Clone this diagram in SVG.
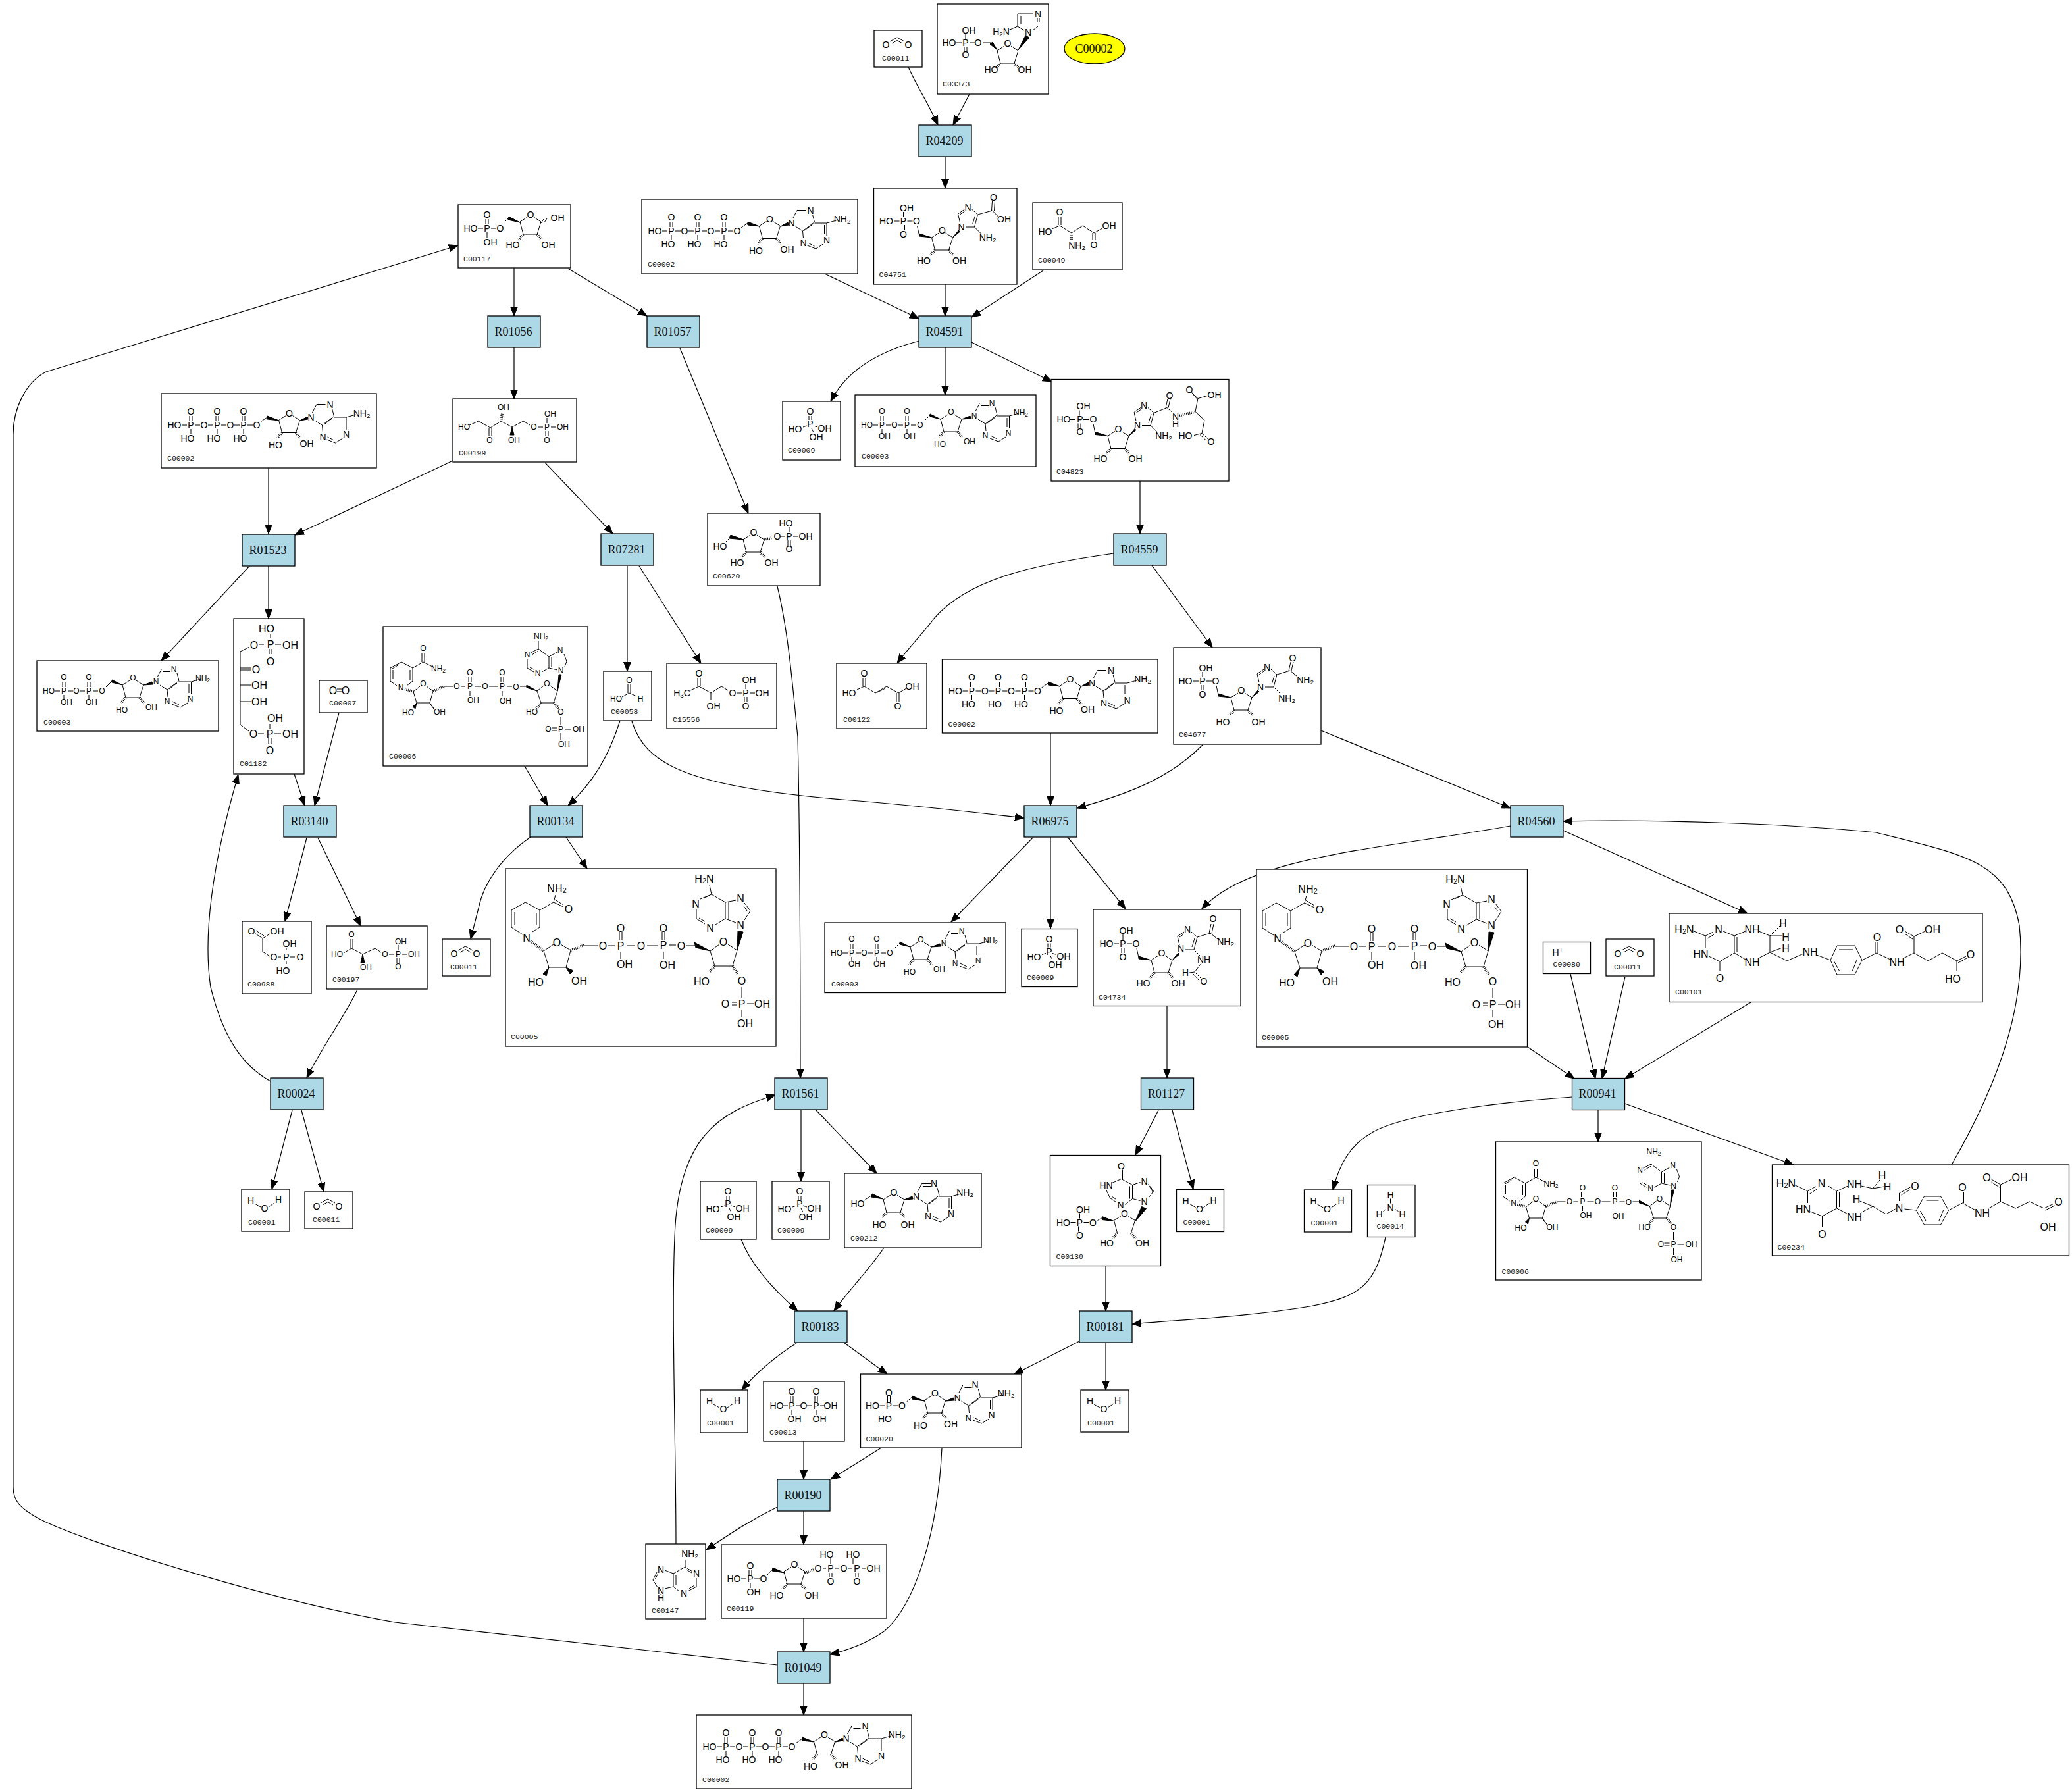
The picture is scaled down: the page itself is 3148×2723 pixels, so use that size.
<svg xmlns="http://www.w3.org/2000/svg" width="3148" height="2723" viewBox="0 0 3148 2723">
<style>
.e path{fill:none;stroke:#000;stroke-width:1.2;marker-end:url(#a)}
rect.c,ellipse.y,rect.r{stroke:#000;stroke-width:1.3}
rect.c{fill:#fff}
rect.r{fill:#add8e6}
ellipse.y{fill:#ff0}
.t{font:18px "Liberation Serif",serif;text-anchor:middle;dominant-baseline:central;fill:#111}
.m text{font:14px "Liberation Sans",sans-serif;text-anchor:middle;dominant-baseline:central;fill:#000}
.m.s text{font-size:12px}
.m.l text{font-size:16px}
.m text.k,.m.s text.k,.m.l text.k{font:11.5px "Liberation Mono",monospace;text-anchor:start;dominant-baseline:central;fill:#111}
.m tspan{font-size:.7em}
.m path,defs path{fill:none;stroke:#000;stroke-width:1;vector-effect:non-scaling-stroke}
path.f{fill:#000!important;stroke:#000}
path.h{stroke-width:4!important;stroke-dasharray:1 1.6}
</style>
<defs>
<marker id="a" markerUnits="userSpaceOnUse" markerWidth="14" markerHeight="12" refX="14" refY="6" orient="auto"><path d="M0 .5L14 6L0 11.5z" style="fill:#000"/></marker>
<g id="rg"><path d="M-5 4L-16 11L-11 30L10 30L16 11L5 4"/><path class="h" d="M-11 30L-18 38M10 30L17 38"/></g>
<path id="p1" d="M-14 0H-6M6 0H14M-2 -14V-6M2 -14V-6M0 6V14"/>
<path id="p2" d="M-14 0H-6M6 0H14M0 -14V-6M-2 6V14M2 6V14"/>
<path id="ade" d="M2 -7L8.5 -19.5H22M11 -15.5H22M32 -13L35 -1.5L17 12L6 5M32 2L20 11M17 12L18 23M24 34L37 39L48 32M25 30L35 35M53.500 19V0H35M50 17V3M53.500 0L68 -4"/>
<path id="co2" d="M24 17L35 11L46 17M27 20L35 15.500L43 20"/>
<path id="h2o" d="M20 22L29 27M41 27L50 21"/>
<path id="pi" d="M40 22V28M44 22V28M37 37L31 39M47 37L53 39M44 41L47 47"/>
<g id="atp"><use href="#p1" x="45" y="48"/><use href="#p1" x="85" y="48"/><use href="#p1" x="125" y="48"/><use href="#rg" x="194.500" y="29.500"/><path class="f" d="M179 41L161 34L161 39z"/><path d="M161 36L151 43"/><path class="f" d="M211 41L222 35L223 39z"/><use href="#ade" x="227.500" y="36"/></g>
<g id="adp"><use href="#p1" x="41" y="46"/><use href="#p1" x="79" y="46"/><use href="#rg" x="146" y="26"/><path class="f" d="M130 37L114 29L114 33z"/><path d="M114 31L105 40"/><path class="f" d="M162 37L175 32L176 36z"/><use href="#ade" x="181" y="32"/></g>
<g id="aic"><use href="#rg"/><use href="#p2" x="-59" y="-14"/><path d="M-38 -7L-35 7"/><path class="f" d="M-16 11L-35 5L-35 9z"/><path class="f" d="M16 11L25 0L27 2z"/><path d="M27 -12L24 -25L34 -32M27 -24L34 -29M45 -32L54 -24L49 -5L36 -5M50 -22L46 -9"/></g>
<g id="nadh"><path d="M26 100L9 89V63L30 51L52 63V89L41 96M14 86V66M47 67V86M52 63L73 51L76 40M73 51L88 58M75 47L88 55M73 115L58 125L66 150H92L99 124L84 115M120 117H140M156 117H166M184 117H197M173 96V109M177 96V109M175 126V137M215 117H231M249 116H259M238 96V108M242 96V108M240 126V137M275 117H290M325 115L311 125L318 148H345L352 124L338 115M363 78L372 64L363 52M367 64L362 57M350 48L334 51V76L350 82M339 51V76M334 76L319 85M303 84L290 76V61M303 80L294 75M296 46L313 39L334 51M301 45L311 40M313 39L310 25M359 180V196M359 214V225M344 203H351M344 207H351M367 205H378"/><path class="h" d="M38 110L58 125M99 124L120 116M318 148L310 157M345 148L353 160"/><path class="f" d="M66 150L57 160L62 163zM92 150L103 155L98 160zM311 125L287 112L289 120zM352 124L353 95L361 96z"/></g>
<g id="nadp"><path d="M21 90L11 83V63L28 54L45 63V83L36 90M15 80V66M24 58L14 64M41 66V81M45 63L61 54L75 61M59 54V41M63 54V41M56 91L46 99L51 116H71L76 98L66 91M93 91H106M118 91H125M139 91H149M130 76V84M134 76V84M132 98V105M161 91H174M188 91H196M179 76V84M183 76V84M181 98V105M208 91H218M244 90L234 98L240 116H259L265 98L254 90M276 61L279 53L275 42M264 39L252 46V63L265 66M256 47V62M252 63L241 69M229 69L219 63V50M229 65L223 62M224 40L236 34L252 46M226 43L236 37M236 34V22M270 137V149M270 162V172M256 154H264M256 158H264M276 156H286"/><path class="h" d="M33 95L46 99M76 98L93 91M240 116L233 125M259 116L268 125"/><path class="f" d="M51 116L45 122L49 125zM71 116L78 126L74 121zM234 98L218 89L218 93zM265 98L267 73L271 73z"/></g>
</defs>
<rect width="3148" height="2723" fill="#fff"/>
<g id="connectors" class="e">
<path d="M1380 102C1395 135 1412 160 1425 190"/><path d="M1473 143L1448 190"/><path d="M1436 238V286"/><path d="M1436 432V480"/><path d="M1253 416L1396 484"/><path d="M1585 411L1476 482"/><path d="M1397 518C1330 535 1285 565 1262 610"/><path d="M1436 528V600"/><path d="M1476 520L1598 580"/><path d="M1732 731V811"/>
<path d="M1692 841C1570 858 1470 880 1419 940C1400 965 1380 985 1363 1008"/><path d="M1750 859L1842 984"/><path d="M1827 1132C1780 1180 1720 1205 1636 1228"/><path d="M2007 1110L2295 1228"/><path d="M1596 1114V1224"/><path d="M960 1096C980 1160 1040 1195 1280 1215C1370 1222 1470 1233 1556 1243"/><path d="M1570 1272L1445 1401"/><path d="M1596 1272V1411"/><path d="M1622 1272L1710 1381"/><path d="M2295 1255C2100 1290 1900 1300 1826 1381"/>
<path d="M2375 1262L2655 1388"/><path d="M1773 1529V1638"/><path d="M1760 1687L1725 1755"/><path d="M1781 1687L1813 1807"/><path d="M1680 1924V1992"/><path d="M2321 1591L2392 1639"/><path d="M2386 1480L2424 1639"/><path d="M2469 1484L2434 1639"/><path d="M2660 1523L2469 1639"/><path d="M2389 1667C2300 1673 2140 1690 2086 1720C2050 1740 2035 1770 2025 1808"/>
<path d="M2428 1687V1735"/><path d="M2469 1677L2725 1770"/><path d="M2965 1770C3040 1640 3080 1520 3068 1406C3050 1310 2990 1300 2850 1265C2700 1250 2500 1245 2375 1248"/><path d="M2105 1880C2090 1950 2070 1970 1990 1985C1900 2000 1800 2005 1720 2012"/><path d="M1680 2040V2112"/><path d="M1640 2038L1541 2088"/><path d="M1282 2040L1348 2088"/><path d="M1210 2041C1180 2060 1150 2085 1127 2112"/><path d="M1126 1883C1140 1920 1170 1955 1212 1992"/><path d="M1343 1896C1320 1930 1290 1960 1267 1992"/>
<path d="M1221 2190V2248"/><path d="M1339 2200L1262 2248"/><path d="M1221 2296V2347"/><path d="M1181 2290C1140 2310 1110 2330 1073 2355"/><path d="M1221 2459V2510"/><path d="M1431 2200C1425 2330 1390 2440 1343 2479C1320 2495 1290 2507 1261 2514"/><path d="M1221 2558V2606"/><path d="M1181 2530L600 2465C400 2430 120 2340 60 2308C30 2292 20 2280 20 2260V660C20 620 40 580 70 565L696 373"/><path d="M1027 2346C1027 2200 1020 2000 1025 1880C1030 1730 1090 1690 1178 1664"/><path d="M1217 1686V1795"/>
<path d="M1240 1687L1332 1783"/><path d="M1181 891C1198 960 1205 1050 1212 1120C1216 1300 1216 1500 1216 1638"/><path d="M1033 529L1137 780"/><path d="M863 408L983 480"/><path d="M781 407V480"/><path d="M781 528V606"/><path d="M688 700L448 813"/><path d="M828 703L931 811"/><path d="M408 711V811"/><path d="M408 859V940"/>
<path d="M380 859L245 1004"/><path d="M447 1176L463 1224"/><path d="M515 1083L478 1224"/><path d="M466 1273L433 1400"/><path d="M483 1273L548 1407"/><path d="M543 1504C520 1550 490 1590 466 1638"/><path d="M411 1643C370 1620 340 1580 320 1500C305 1400 335 1270 362 1177"/><path d="M444 1687L413 1807"/><path d="M458 1687L492 1811"/><path d="M953 860V1020"/>
<path d="M971 860L1065 1008"/><path d="M942 1095C925 1150 900 1190 863 1224"/><path d="M797 1164L832 1224"/><path d="M806 1272C765 1300 735 1340 727 1380L715 1427"/><path d="M860 1272L892 1320"/>
</g>
<g id="R04209"><rect class="r" x="1396" y="190" width="80" height="48"/><text class="t" x="1435" y="214">R04209</text></g>
<g id="R04591"><rect class="r" x="1396" y="480" width="80" height="48"/><text class="t" x="1435" y="504">R04591</text></g>
<g id="R01056"><rect class="r" x="741" y="480" width="80" height="48"/><text class="t" x="780" y="504">R01056</text></g>
<g id="R01057"><rect class="r" x="983" y="480" width="80" height="48"/><text class="t" x="1022" y="504">R01057</text></g>
<g id="R01523"><rect class="r" x="368" y="812" width="80" height="48"/><text class="t" x="407" y="836">R01523</text></g>
<g id="R07281"><rect class="r" x="913" y="811" width="80" height="48"/><text class="t" x="952" y="835">R07281</text></g>
<g id="R04559"><rect class="r" x="1692" y="811" width="80" height="48"/><text class="t" x="1731" y="835">R04559</text></g>
<g id="R03140"><rect class="r" x="431" y="1224" width="80" height="48"/><text class="t" x="470" y="1248">R03140</text></g>
<g id="R00134"><rect class="r" x="805" y="1224" width="80" height="48"/><text class="t" x="844" y="1248">R00134</text></g>
<g id="R06975"><rect class="r" x="1556" y="1224" width="80" height="48"/><text class="t" x="1595" y="1248">R06975</text></g>
<g id="R04560"><rect class="r" x="2295" y="1224" width="80" height="48"/><text class="t" x="2334" y="1248">R04560</text></g>
<g id="R00024"><rect class="r" x="411" y="1638" width="80" height="48"/><text class="t" x="450" y="1662">R00024</text></g>
<g id="R01561"><rect class="r" x="1177" y="1638" width="80" height="48"/><text class="t" x="1216" y="1662">R01561</text></g>
<g id="R01127"><rect class="r" x="1733.500" y="1638" width="80" height="48"/><text class="t" x="1772" y="1662">R01127</text></g>
<g id="R00941"><rect class="r" x="2388.500" y="1638.500" width="80" height="48"/><text class="t" x="2427" y="1662">R00941</text></g>
<g id="R00183"><rect class="r" x="1207" y="1992" width="80" height="48"/><text class="t" x="1246" y="2016">R00183</text></g>
<g id="R00181"><rect class="r" x="1640" y="1992" width="80" height="48"/><text class="t" x="1679" y="2016">R00181</text></g>
<g id="R00190"><rect class="r" x="1181" y="2248" width="80" height="48"/><text class="t" x="1220" y="2272">R00190</text></g>
<g id="R01049"><rect class="r" x="1181" y="2510" width="80" height="48"/><text class="t" x="1220" y="2534">R01049</text></g>
<g id="C00002_o"><ellipse class="y" cx="1663" cy="74" rx="46" ry="23"/><text class="t" x="1662" y="74">C00002</text></g>

<g id="C00011_a" class="m" transform="translate(1328 46)"><rect class="c" width="73" height="56"/><use href="#co2"/><text x="18" y="22">O</text><text x="52" y="22">O</text><text class="k" x="12" y="42">C00011</text></g>
<g id="C00011_b" class="m" transform="translate(672 1427)"><rect class="c" width="73" height="56"/><use href="#co2"/><text x="18" y="22">O</text><text x="52" y="22">O</text><text class="k" x="12" y="42">C00011</text></g>
<g id="C00011_c" class="m" transform="translate(463 1811)"><rect class="c" width="73" height="56"/><use href="#co2"/><text x="18" y="22">O</text><text x="52" y="22">O</text><text class="k" x="12" y="42">C00011</text></g>
<g id="C00011_d" class="m" transform="translate(2440 1427)"><rect class="c" width="73" height="56"/><use href="#co2"/><text x="18" y="22">O</text><text x="52" y="22">O</text><text class="k" x="12" y="42">C00011</text></g>

<g id="C00001_a" class="m" transform="translate(367 1807)"><rect class="c" width="73" height="64"/><use href="#h2o"/><text x="14" y="17">H</text><text x="56" y="16">H</text><text x="35" y="29">O</text><text class="k" x="10" y="50">C00001</text></g>
<g id="C00001_b" class="m" transform="translate(1787.500 1807.500)"><rect class="c" width="72" height="64"/><use href="#h2o"/><text x="14" y="17">H</text><text x="56" y="16">H</text><text x="35" y="29">O</text><text class="k" x="10" y="50">C00001</text></g>
<g id="C00001_c" class="m" transform="translate(1981.500 1808)"><rect class="c" width="72" height="64"/><use href="#h2o"/><text x="14" y="17">H</text><text x="56" y="16">H</text><text x="35" y="29">O</text><text class="k" x="10" y="50">C00001</text></g>
<g id="C00001_d" class="m" transform="translate(1064 2112)"><rect class="c" width="72" height="65"/><use href="#h2o"/><text x="14" y="17">H</text><text x="56" y="16">H</text><text x="35" y="29">O</text><text class="k" x="10" y="50">C00001</text></g>
<g id="C00001_e" class="m" transform="translate(1642 2112)"><rect class="c" width="73" height="64"/><use href="#h2o"/><text x="14" y="17">H</text><text x="56" y="16">H</text><text x="35" y="29">O</text><text class="k" x="10" y="50">C00001</text></g>

<g id="C00009_a" class="m" transform="translate(1189 610)"><rect class="c" width="88" height="89"/><use href="#pi"/><text x="42" y="15">O</text><text x="42" y="34">P</text><text x="19" y="42">HO</text><text x="64" y="41">OH</text><text x="51" y="54">OH</text><text class="k" x="8" y="74">C00009</text></g>
<g id="C00009_b" class="m" transform="translate(1552 1411.500)"><rect class="c" width="85" height="88"/><use href="#pi"/><text x="42" y="15">O</text><text x="42" y="34">P</text><text x="19" y="42">HO</text><text x="64" y="41">OH</text><text x="51" y="54">OH</text><text class="k" x="8" y="74">C00009</text></g>
<g id="C00009_c" class="m" transform="translate(1064 1795)"><rect class="c" width="85" height="88"/><use href="#pi"/><text x="42" y="15">O</text><text x="42" y="34">P</text><text x="19" y="42">HO</text><text x="64" y="41">OH</text><text x="51" y="54">OH</text><text class="k" x="8" y="74">C00009</text></g>
<g id="C00009_d" class="m" transform="translate(1173 1795)"><rect class="c" width="87" height="88"/><use href="#pi"/><text x="42" y="15">O</text><text x="42" y="34">P</text><text x="19" y="42">HO</text><text x="64" y="41">OH</text><text x="51" y="54">OH</text><text class="k" x="8" y="74">C00009</text></g>

<g id="C00002_a" class="m" transform="translate(975 303)"><rect class="c" width="328" height="113"/><use href="#atp"/><text x="20" y="48">HO</text><text x="45" y="27">O</text><text x="45" y="48">P</text><text x="40" y="68">HO</text><text x="65" y="48">O</text><text x="85" y="27">O</text><text x="85" y="48">P</text><text x="80" y="68">HO</text><text x="105" y="48">O</text><text x="125" y="27">O</text><text x="125" y="48">P</text><text x="120" y="68">HO</text><text x="145" y="48">O</text><text x="194.500" y="29.500">O</text><text x="173.500" y="78">HO</text><text x="221" y="76">OH</text><text x="227.500" y="36">N</text><text x="256.500" y="16.500">N</text><text x="245.500" y="66">N</text><text x="281" y="62">N</text><text x="304.500" y="29.500">NH<tspan dy="3">2</tspan></text><text class="k" x="9" y="98">C00002</text></g>
<g id="C00002_b" class="m" transform="translate(245 598)"><rect class="c" width="327" height="113"/><use href="#atp"/><text x="20" y="48">HO</text><text x="45" y="27">O</text><text x="45" y="48">P</text><text x="40" y="68">HO</text><text x="65" y="48">O</text><text x="85" y="27">O</text><text x="85" y="48">P</text><text x="80" y="68">HO</text><text x="105" y="48">O</text><text x="125" y="27">O</text><text x="125" y="48">P</text><text x="120" y="68">HO</text><text x="145" y="48">O</text><text x="194.500" y="29.500">O</text><text x="173.500" y="78">HO</text><text x="221" y="76">OH</text><text x="227.500" y="36">N</text><text x="256.500" y="16.500">N</text><text x="245.500" y="66">N</text><text x="281" y="62">N</text><text x="304.500" y="29.500">NH<tspan dy="3">2</tspan></text><text class="k" x="9" y="98">C00002</text></g>
<g id="C00002_c" class="m" transform="translate(1431.500 1002)"><rect class="c" width="327.500" height="112"/><use href="#atp"/><text x="20" y="48">HO</text><text x="45" y="27">O</text><text x="45" y="48">P</text><text x="40" y="68">HO</text><text x="65" y="48">O</text><text x="85" y="27">O</text><text x="85" y="48">P</text><text x="80" y="68">HO</text><text x="105" y="48">O</text><text x="125" y="27">O</text><text x="125" y="48">P</text><text x="120" y="68">HO</text><text x="145" y="48">O</text><text x="194.500" y="29.500">O</text><text x="173.500" y="78">HO</text><text x="221" y="76">OH</text><text x="227.500" y="36">N</text><text x="256.500" y="16.500">N</text><text x="245.500" y="66">N</text><text x="281" y="62">N</text><text x="304.500" y="29.500">NH<tspan dy="3">2</tspan></text><text class="k" x="9" y="98">C00002</text></g>
<g id="C00002_d" class="m" transform="translate(1058 2606)"><rect class="c" width="327" height="112"/><use href="#atp"/><text x="20" y="48">HO</text><text x="45" y="27">O</text><text x="45" y="48">P</text><text x="40" y="68">HO</text><text x="65" y="48">O</text><text x="85" y="27">O</text><text x="85" y="48">P</text><text x="80" y="68">HO</text><text x="105" y="48">O</text><text x="125" y="27">O</text><text x="125" y="48">P</text><text x="120" y="68">HO</text><text x="145" y="48">O</text><text x="194.500" y="29.500">O</text><text x="173.500" y="78">HO</text><text x="221" y="76">OH</text><text x="227.500" y="36">N</text><text x="256.500" y="16.500">N</text><text x="245.500" y="66">N</text><text x="281" y="62">N</text><text x="304.500" y="29.500">NH<tspan dy="3">2</tspan></text><text class="k" x="9" y="98">C00002</text></g>

<g id="C00003_a" class="m s" transform="translate(1299 600)"><rect class="c" width="275" height="109"/><use href="#adp"/><text x="18" y="46">HO</text><text x="41" y="25">O</text><text x="41" y="46">P</text><text x="45" y="63">OH</text><text x="60" y="46">O</text><text x="79" y="25">O</text><text x="79" y="46">P</text><text x="83" y="63">OH</text><text x="99" y="46">O</text><text x="146" y="26">O</text><text x="129" y="75">HO</text><text x="174" y="71">OH</text><text x="181" y="32">N</text><text x="208" y="13">N</text><text x="198" y="62">N</text><text x="233" y="58">N</text><text x="252" y="27">NH<tspan dy="3">2</tspan></text><text class="k" x="10" y="93">C00003</text></g>
<g id="C00003_b" class="m s" transform="translate(56 1004)"><rect class="c" width="276" height="107"/><use href="#adp"/><text x="18" y="46">HO</text><text x="41" y="25">O</text><text x="41" y="46">P</text><text x="45" y="63">OH</text><text x="60" y="46">O</text><text x="79" y="25">O</text><text x="79" y="46">P</text><text x="83" y="63">OH</text><text x="99" y="46">O</text><text x="146" y="26">O</text><text x="129" y="75">HO</text><text x="174" y="71">OH</text><text x="181" y="32">N</text><text x="208" y="13">N</text><text x="198" y="62">N</text><text x="233" y="58">N</text><text x="252" y="27">NH<tspan dy="3">2</tspan></text><text class="k" x="10" y="93">C00003</text></g>
<g id="C00003_c" class="m s" transform="translate(1253 1402)"><rect class="c" width="275" height="106.500"/><use href="#adp"/><text x="18" y="46">HO</text><text x="41" y="25">O</text><text x="41" y="46">P</text><text x="45" y="63">OH</text><text x="60" y="46">O</text><text x="79" y="25">O</text><text x="79" y="46">P</text><text x="83" y="63">OH</text><text x="99" y="46">O</text><text x="146" y="26">O</text><text x="129" y="75">HO</text><text x="174" y="71">OH</text><text x="181" y="32">N</text><text x="208" y="13">N</text><text x="198" y="62">N</text><text x="233" y="58">N</text><text x="252" y="27">NH<tspan dy="3">2</tspan></text><text class="k" x="10" y="93">C00003</text></g>

<g id="C03373" class="m" transform="translate(1424 6)"><rect class="c" width="169" height="137"/><use href="#rg" x="107" y="60"/><use href="#p2" x="43" y="59"/><path d="M70 59H82M122 34L132 40M122 34V15M127 31V18M122 15H146M152 22V28M155 22V28M153 34L145 40M122 34L108 40"/><path class="f" d="M91 70L80 61L84 58zM123 70L134 48L140 51z"/><text x="18" y="59">HO</text><text x="43" y="59">P</text><text x="48" y="40">OH</text><text x="43" y="77">O</text><text x="62" y="59">O</text><text x="107" y="60">O</text><text x="138" y="43">N</text><text x="153" y="15">N</text><text x="97" y="42">H<tspan dy="3">2</tspan><tspan dy="-3" style="font-size:1em">N</tspan></text><text x="82" y="100">HO</text><text x="133" y="100">OH</text><text class="k" x="8" y="121">C03373</text></g>

<g id="C04751" class="m" transform="translate(1327.500 286)"><rect class="c" width="217.500" height="146"/><g transform="translate(104 64)"><use href="#aic"/><path d="M49 -5L59 5M54 -24L76 -30L85 -21M75 -30L76 -44M79 -30L80 -44"/><text x="-85" y="-14">HO</text><text x="-59" y="-14">P</text><text x="-54" y="-34">OH</text><text x="-59" y="6">O</text><text x="-39" y="-14">O</text><text x="0" y="0">O</text><text x="29" y="-5">N</text><text x="39" y="-35">N</text><text x="69" y="11">NH<tspan dy="3">2</tspan></text><text x="-28" y="46">HO</text><text x="26" y="46">OH</text><text x="78" y="-50">O</text><text x="94" y="-17">OH</text></g><text class="k" x="8" y="131">C04751</text></g>

<g id="C04677" class="m" transform="translate(1783 984)"><rect class="c" width="224" height="147"/><g transform="translate(103 65)"><use href="#aic"/><path d="M49 -5L59 5M54 -24L74 -30L85 -21M72 -30L75 -43M76 -30L79 -43"/><text x="-85" y="-14">HO</text><text x="-59" y="-14">P</text><text x="-54" y="-34">OH</text><text x="-59" y="6">O</text><text x="-39" y="-14">O</text><text x="0" y="0">O</text><text x="29" y="-5">N</text><text x="39" y="-35">N</text><text x="69" y="12">NH<tspan dy="3">2</tspan></text><text x="-28" y="48">HO</text><text x="26" y="48">OH</text><text x="78" y="-49">O</text><text x="97" y="-16">NH<tspan dy="3">2</tspan></text></g><text class="k" x="8" y="132">C04677</text></g>

<g id="C04823" class="m" transform="translate(1597 576.500)"><rect class="c" width="270" height="154.500"/><g transform="translate(102 75)"><use href="#aic"/><path d="M49 -5L59 5M54 -24L74 -32L82 -25M72 -32L75 -45M76 -32L79 -45M117 -26L121 -46L113 -53M119 -46L111 -56M121 -46L135 -50M117 -26L131 -13L127 7L115 10M127 7L137 16M124 9L134 18"/><path class="h" d="M93 -20L117 -26"/><text x="-83" y="-15">HO</text><text x="-58" y="-15">P</text><text x="-53" y="-35">OH</text><text x="-58" y="4">O</text><text x="-38" y="-15">O</text><text x="0" y="0">O</text><text x="29" y="-6">N</text><text x="39" y="-36">N</text><text x="69" y="10">NH<tspan dy="3">2</tspan></text><text x="-27" y="45">HO</text><text x="26" y="45">OH</text><text x="78" y="-51">O</text><text x="87" y="-19">N</text><text x="87" y="-8">H</text><text x="108" y="-60">O</text><text x="146" y="-52">OH</text><text x="102" y="10">HO</text><text x="141" y="19">O</text></g><text class="k" x="8" y="140">C04823</text></g>

<g id="C04734" class="m" transform="translate(1661 1382)"><rect class="c" width="224" height="146.500"/><g transform="translate(104 66)"><use href="#aic"/><path d="M49 -5L58 4M54 -24L74 -30L85 -21M72 -30L75 -44M76 -30L79 -44M60 16L50 29L42 30M50 29L59 38M47 31L56 41"/><text x="-84" y="-14">HO</text><text x="-59" y="-14">P</text><text x="-54" y="-34">OH</text><text x="-59" y="6">O</text><text x="-39" y="-14">O</text><text x="0" y="0">O</text><text x="29" y="-7">N</text><text x="39" y="-36">N</text><text x="64" y="10">NH</text><text x="36" y="30">H</text><text x="64" y="43">O</text><text x="-28" y="46">HO</text><text x="25" y="46">OH</text><text x="78" y="-52">O</text><text x="97" y="-17">NH<tspan dy="3">2</tspan></text></g><text class="k" x="8" y="133">C04734</text></g>

<g id="C00049" class="m" transform="translate(1569 308)"><rect class="c" width="136" height="102"/><path d="M39 21V34M43 21V34M41 35L29 40M41 35L59 46L76 35L93 46L106 39M91 46V57M95 46V57"/><path class="h" d="M59 47V57"/><text x="19" y="44">HO</text><text x="41" y="14">O</text><text x="67" y="65">NH<tspan dy="3">2</tspan></text><text x="116" y="35">OH</text><text x="93" y="64">O</text><text class="k" x="8" y="87">C00049</text></g>

<g id="C00117" class="m" transform="translate(696 311)"><rect class="c" width="171" height="96"/><use href="#p1" x="44" y="36"/><use href="#rg" x="110" y="15"/><path class="f" d="M94 27L77 18L76 23z"/><path d="M76 21L69 28M126 28L130 22L131 27L135 21"/><text x="19" y="36">HO</text><text x="44" y="36">P</text><text x="44" y="15">O</text><text x="49" y="57">OH</text><text x="64" y="36">O</text><text x="110" y="15">O</text><text x="151" y="20">OH</text><text x="83" y="61">HO</text><text x="137" y="61">OH</text><text class="k" x="8" y="82">C00117</text></g>

<g id="C00199" class="m s" transform="translate(688 606)"><rect class="c" width="188" height="96"/><use href="#p2" x="143" y="43"/><path d="M25 40L39 34L57 44L73 34L90 43L107 34L117 40M55 45V56M59 45V56"/><path class="h" d="M73 34L75 22"/><path class="f" d="M90 43L87 55L93 55z"/><text x="17" y="43">HO</text><text x="56" y="63">O</text><text x="77" y="13">OH</text><text x="93" y="63">OH</text><text x="123" y="43">O</text><text x="143" y="43">P</text><text x="148" y="23">OH</text><text x="167" y="43">OH</text><text x="143" y="63">O</text><text class="k" x="9" y="82">C00199</text></g>

<g id="C00620" class="m" transform="translate(1075 780)"><rect class="c" width="171" height="110"/><use href="#rg" x="70" y="29"/><use href="#p2" x="124" y="35"/><path d="M35 36L27 44"/><path class="f" d="M55 40L35 33L33 38z"/><path class="h" d="M86 40L98 37"/><text x="19" y="50">HO</text><text x="70" y="29">O</text><text x="106" y="35">O</text><text x="124" y="35">P</text><text x="119" y="15">HO</text><text x="149" y="35">OH</text><text x="124" y="54">O</text><text x="45" y="75">HO</text><text x="97" y="75">OH</text><text class="k" x="8" y="95">C00620</text></g>

<g id="C15556" class="m" transform="translate(1013 1008)"><rect class="c" width="167" height="99"/><use href="#p2" x="120" y="45"/><path d="M36 41L49 35L67 45L83 35L93 41M47 35V22M51 35V22M67 45V56"/><text x="23" y="45">H<tspan dy="3">3</tspan><tspan dy="-3" style="font-size:1em">C</tspan></text><text x="49" y="15">O</text><text x="71" y="65">OH</text><text x="100" y="45">O</text><text x="120" y="45">P</text><text x="125" y="25">OH</text><text x="145" y="45">OH</text><text x="120" y="65">O</text><text class="k" x="9" y="85">C15556</text></g>

<g id="C00122" class="m" transform="translate(1271 1008)"><rect class="c" width="137" height="99"/><path d="M31 40L42 35L59 45L76 35L94 45L106 38M40 35V22M44 35V22M62 44L74 38M91 45V58M95 45V58"/><text x="19" y="45">HO</text><text x="42" y="15">O</text><text x="115" y="35">OH</text><text x="93" y="65">O</text><text class="k" x="10" y="85">C00122</text></g>

<g id="C00058" class="m s" transform="translate(917 1020)"><rect class="c" width="73" height="75"/><path d="M37 20V33M41 20V33M39 33L28 39M39 33L50 38"/><text x="39" y="14">O</text><text x="19" y="42">HO</text><text x="56" y="42">H</text><text class="k" x="11" y="61">C00058</text></g>

<g id="C00007" class="m l" transform="translate(485 1034)"><rect class="c" width="73" height="49"/><path d="M27 13H34M27 17H34"/><text x="21" y="15">O</text><text x="40" y="15">O</text><text class="k" x="15" y="34">C00007</text></g>

<g id="C01182" class="m l" transform="translate(355 940)"><rect class="c" width="107" height="236"/><path d="M24 43L10 50V161L23 171M10 75H27M10 78H27M10 101H27M10 126H27M38 39H46M63 39H72M56 30V24M54 46V54M58 46V54M37 175H46M62 175H72M55 167V160M53 182V190M57 182V190"/><text x="50" y="15">HO</text><text x="31" y="40">O</text><text x="56" y="39">P</text><text x="86" y="40">OH</text><text x="56" y="65">O</text><text x="34" y="77">O</text><text x="39" y="101">OH</text><text x="39" y="126">OH</text><text x="30" y="175">O</text><text x="55" y="175">P</text><text x="63" y="151">OH</text><text x="86" y="175">OH</text><text x="55" y="200">O</text><text class="k" x="9" y="220">C01182</text></g>

<g id="C00006_a" class="m s" transform="translate(582 952)"><rect class="c" width="311" height="212"/><use href="#nadp"/><text x="27" y="93">N</text><text x="61" y="33">O</text><text x="84" y="64">NH<tspan dy="3">2</tspan></text><text x="61" y="87">O</text><text x="112" y="91">O</text><text x="132" y="91">P</text><text x="132" y="70">O</text><text x="137" y="112">OH</text><text x="155" y="91">O</text><text x="181" y="91">P</text><text x="181" y="70">O</text><text x="186" y="113">OH</text><text x="202" y="92">O</text><text x="249" y="87">O</text><text x="270" y="67">N</text><text x="269" y="36">N</text><text x="235" y="71">N</text><text x="219" y="43">N</text><text x="240" y="15">NH<tspan dy="3">2</tspan></text><text x="38" y="131">HO</text><text x="86" y="130">OH</text><text x="226" y="130">HO</text><text x="270" y="130">O</text><text x="270" y="156">P</text><text x="251" y="156">O</text><text x="297" y="156">OH</text><text x="275" y="179">OH</text><text class="k" x="9" y="197">C00006</text></g>
<g id="C00006_b" class="m s" transform="translate(2272.500 1735)"><rect class="c" width="312.500" height="210"/><use href="#nadp"/><text x="27" y="93">N</text><text x="61" y="33">O</text><text x="84" y="64">NH<tspan dy="3">2</tspan></text><text x="61" y="87">O</text><text x="112" y="91">O</text><text x="132" y="91">P</text><text x="132" y="70">O</text><text x="137" y="112">OH</text><text x="155" y="91">O</text><text x="181" y="91">P</text><text x="181" y="70">O</text><text x="186" y="113">OH</text><text x="202" y="92">O</text><text x="249" y="87">O</text><text x="270" y="67">N</text><text x="269" y="36">N</text><text x="235" y="71">N</text><text x="219" y="43">N</text><text x="240" y="15">NH<tspan dy="3">2</tspan></text><text x="38" y="131">HO</text><text x="86" y="130">OH</text><text x="226" y="130">HO</text><text x="270" y="130">O</text><text x="270" y="156">P</text><text x="251" y="156">O</text><text x="297" y="156">OH</text><text x="275" y="179">OH</text><text class="k" x="9" y="197">C00006</text></g>

<g id="C00005_a" class="m l" transform="translate(768 1320)"><rect class="c" width="411" height="270"/><use href="#nadh"/><text x="32" y="105">N</text><text x="78" y="30">NH<tspan dy="3">2</tspan></text><text x="96" y="61">O</text><text x="78" y="112">O</text><text x="148" y="117">O</text><text x="175" y="117">P</text><text x="175" y="90">O</text><text x="181" y="145">OH</text><text x="206" y="117">O</text><text x="240" y="116">P</text><text x="240" y="90">O</text><text x="246" y="146">OH</text><text x="267" y="117">O</text><text x="331" y="111">O</text><text x="357" y="85">N</text><text x="357" y="45">N</text><text x="311" y="90">N</text><text x="289" y="53">N</text><text x="302" y="15">H<tspan dy="3">2</tspan><tspan dy="-3" style="font-size:1em">N</tspan></text><text x="46" y="172">HO</text><text x="112" y="170">OH</text><text x="298" y="171">HO</text><text x="359" y="170">O</text><text x="359" y="205">P</text><text x="334" y="205">O</text><text x="390" y="205">OH</text><text x="364" y="235">OH</text><text class="k" x="8" y="255">C00005</text></g>
<g id="C00005_b" class="m l" transform="translate(1909 1321)"><rect class="c" width="411.500" height="270"/><use href="#nadh"/><text x="32" y="105">N</text><text x="78" y="30">NH<tspan dy="3">2</tspan></text><text x="96" y="61">O</text><text x="78" y="112">O</text><text x="148" y="117">O</text><text x="175" y="117">P</text><text x="175" y="90">O</text><text x="181" y="145">OH</text><text x="206" y="117">O</text><text x="240" y="116">P</text><text x="240" y="90">O</text><text x="246" y="146">OH</text><text x="267" y="117">O</text><text x="331" y="111">O</text><text x="357" y="85">N</text><text x="357" y="45">N</text><text x="311" y="90">N</text><text x="289" y="53">N</text><text x="302" y="15">H<tspan dy="3">2</tspan><tspan dy="-3" style="font-size:1em">N</tspan></text><text x="46" y="172">HO</text><text x="112" y="170">OH</text><text x="298" y="171">HO</text><text x="359" y="170">O</text><text x="359" y="205">P</text><text x="334" y="205">O</text><text x="390" y="205">OH</text><text x="364" y="235">OH</text><text class="k" x="8" y="255">C00005</text></g>

<g id="C00988" class="m" transform="translate(368 1400)"><rect class="c" width="105" height="110"/><path d="M19 18L31 26L42 19M21 14L33 22M31 26V46L42 53M55 54H59M72 54H80M67 44V41M67 61V65"/><text x="14" y="15">O</text><text x="53" y="15">OH</text><text x="48" y="54">O</text><text x="67" y="54">P</text><text x="72" y="34">OH</text><text x="88" y="54">O</text><text x="62" y="75">HO</text><text class="k" x="8" y="95">C00988</text></g>

<g id="C00197" class="m s" transform="translate(496 1407)"><rect class="c" width="153" height="96"/><use href="#p2" x="109" y="43"/><path d="M36 20V34M40 20V34M38 34L26 41M38 34L55 43L74 34L83 40"/><path class="f" d="M55 43L52 56L58 56z"/><text x="16" y="43">HO</text><text x="38" y="13">O</text><text x="60" y="63">OH</text><text x="89" y="43">O</text><text x="109" y="43">P</text><text x="113" y="24">OH</text><text x="133" y="43">OH</text><text x="109" y="62">O</text><text class="k" x="9" y="81">C00197</text></g>

<g id="C00080" class="m" transform="translate(2344.500 1431.500)"><rect class="c" width="72" height="48"/><text x="22" y="15">H<tspan dy="-4">+</tspan></text><text class="k" x="15" y="34">C00080</text></g>

<g id="C00014" class="m" transform="translate(2077.500 1800.500)"><rect class="c" width="72.500" height="79"/><path d="M35 21V28M28 37L24 40M42 37L47 40"/><text x="35" y="15">H</text><text x="35" y="34">N</text><text x="18" y="44">H</text><text x="53" y="44">H</text><text class="k" x="14" y="63">C00014</text></g>

<g id="C00130" class="m" transform="translate(1595.500 1755.500)"><rect class="c" width="168" height="168"/><use href="#rg" x="113" y="88"/><use href="#p2" x="45" y="102"/><path d="M106 36V22M110 36V22M108 36L94 42M85 52L91 65L100 71M93 62L100 67M114 75L125 66V45L108 36M121 66V47M125 45L137 41M149 44L156 56L150 64M152 47L158 56M137 69L125 66M72 99L79 95"/><path class="f" d="M97 100L79 93L79 98zM129 101L139 78L146 81z"/><text x="108" y="16">O</text><text x="85" y="45">HN</text><text x="107" y="75">N</text><text x="143" y="39">N</text><text x="143" y="70">N</text><text x="113" y="88">O</text><text x="65" y="102">O</text><text x="45" y="102">P</text><text x="50" y="82">OH</text><text x="20" y="102">HO</text><text x="45" y="121">O</text><text x="86" y="133">HO</text><text x="140" y="133">OH</text><text class="k" x="9" y="154">C00130</text></g>

<g id="C00212" class="m" transform="translate(1283 1783)"><rect class="c" width="208" height="113"/><use href="#rg" x="75" y="29"/><use href="#ade" x="109" y="35"/><path d="M30 41L42 33"/><path class="f" d="M59 39L42 31L41 36zM91 40L103 35L104 39z"/><text x="20" y="46">HO</text><text x="75" y="29">O</text><text x="53" y="78">HO</text><text x="96" y="78">OH</text><text x="109" y="35">N</text><text x="136" y="15">N</text><text x="127" y="65">N</text><text x="162" y="61">N</text><text x="183" y="29">NH<tspan dy="3">2</tspan></text><text class="k" x="9" y="98">C00212</text></g>

<g id="C00020" class="m" transform="translate(1307.500 2088)"><rect class="c" width="244.500" height="112"/><use href="#rg" x="113" y="29"/><use href="#p1" x="43" y="48"/><use href="#ade" x="147" y="36"/><path d="M70 42L78 35"/><path class="f" d="M97 41L78 33L78 38zM129 41L141 36L142 40z"/><text x="18" y="48">HO</text><text x="43" y="48">P</text><text x="43" y="28">O</text><text x="37" y="68">HO</text><text x="63" y="48">O</text><text x="113" y="29">O</text><text x="147" y="36">N</text><text x="174" y="16">N</text><text x="164" y="67">N</text><text x="199" y="62">N</text><text x="221" y="29">NH<tspan dy="3">2</tspan></text><text x="91" y="78">HO</text><text x="137" y="76">OH</text><text class="k" x="8" y="98">C00020</text></g>

<g id="C00013" class="m" transform="translate(1160 2099)"><rect class="c" width="123" height="91"/><use href="#p1" x="43" y="37"/><use href="#p1" x="80" y="37"/><text x="20" y="37">HO</text><text x="43" y="37">P</text><text x="43" y="15">O</text><text x="47" y="57">OH</text><text x="61" y="37">O</text><text x="80" y="37">P</text><text x="80" y="15">O</text><text x="102" y="37">OH</text><text x="85" y="57">OH</text><text class="k" x="9" y="77">C00013</text></g>

<g id="C00147" class="m" transform="translate(981 2346)"><rect class="c" width="91" height="114"/><path d="M60 24V35L71 42M62 39L70 44M77 52V65L64 72M74 63L66 68M51 72L42 65V45L60 35M46 63V47M42 45L29 40M17 43L11 55L18 66M19 45L14 54M29 68L42 65M23 77V76"/><text x="67" y="15">NH<tspan dy="3">2</tspan></text><text x="77" y="45">N</text><text x="58" y="75">N</text><text x="23" y="39">N</text><text x="23" y="71">N</text><text x="23" y="82">H</text><text class="k" x="9" y="101">C00147</text></g>

<g id="C00119" class="m" transform="translate(1096 2347)"><rect class="c" width="251" height="112"/><use href="#rg" x="111" y="30"/><use href="#p1" x="44" y="52"/><path d="M70 46L78 37M154 36H159M173 36H179M193 36H199M213 36H219M166 21V29M200 21V29M164 43V49M168 43V49M204 43V49M208 43V49"/><path class="f" d="M96 43L78 35L77 40z"/><path class="h" d="M127 43L140 38"/><text x="19" y="52">HO</text><text x="44" y="52">P</text><text x="44" y="32">O</text><text x="49" y="72">OH</text><text x="64" y="52">O</text><text x="111" y="30">O</text><text x="147" y="36">O</text><text x="166" y="36">P</text><text x="160" y="15">HO</text><text x="166" y="56">O</text><text x="186" y="36">O</text><text x="206" y="36">P</text><text x="200" y="15">HO</text><text x="206" y="56">O</text><text x="231" y="36">OH</text><text x="84" y="77">HO</text><text x="137" y="77">OH</text><text class="k" x="8" y="97">C00119</text></g>

<g id="C00101" class="m l" transform="translate(2536 1388)"><rect class="c" width="476" height="134.500"/><path d="M35 26L55 34L67 28M58 38L68 32M82 27L99 34L116 27M99 34V60M103 36V58M136 27L153 34V59M153 34L168 19M153 34H171M153 59L172 52M153 59L179 72L204 61M136 68L153 59M99 60L116 70M99 60L77 73V88M77 73L60 65M55 34V52M224 63L245 71L255 49H282L293 71L282 93H255L245 71M258 55H279M285 71L278 88M259 88L250 72M293 71L315 60L336 70M313 60V43M317 60V43M356 68L372 60V35L358 27M370 39L358 31M372 35L389 27M372 60L393 72L415 60L437 72L451 65M439 75L452 68M437 72V88"/><text x="23" y="24">H<tspan dy="3">2</tspan><tspan dy="-3" style="font-size:1em">N</tspan></text><text x="75" y="24">N</text><text x="126" y="24">NH</text><text x="173" y="15">H</text><text x="177" y="36">H</text><text x="177" y="53">H</text><text x="126" y="74">NH</text><text x="77" y="98">O</text><text x="48" y="61">HN</text><text x="214" y="58">NH</text><text x="316" y="36">O</text><text x="346" y="74">NH</text><text x="350" y="24">O</text><text x="400" y="24">OH</text><text x="458" y="62">O</text><text x="431" y="99">HO</text><text class="k" x="9" y="119">C00101</text></g>

<g id="C00234" class="m l" transform="translate(2692.500 1770)"><rect class="c" width="451" height="138"/><path d="M33 30L54 40L66 33M57 44L68 37M85 32L98 40L115 32M98 40V66M102 42V64M135 32L153 36V63M153 36L165 21M153 36L170 33M153 63L133 55M136 72L153 63L173 75L187 67M98 66L115 75M98 66L76 78V95M74 78V95M76 78L58 71M54 40V58M201 67L219 69L231 48H256L268 69L256 91H231L219 69M234 54H253M260 69L253 86M234 86L225 70M268 69L289 58L309 69M287 58V42M291 58V42M329 66L347 56V30L333 22M345 34L333 26M347 30L364 22M347 56L370 66L391 56L413 66L428 59M415 69L429 62M413 66V84M193 55V43L210 34M196 46L209 38"/><text x="21" y="28">H<tspan dy="3">2</tspan><tspan dy="-3" style="font-size:1em">N</tspan></text><text x="75" y="28">N</text><text x="125" y="29">NH</text><text x="167" y="16">H</text><text x="175" y="33">H</text><text x="128" y="52">H</text><text x="125" y="79">NH</text><text x="76" y="105">O</text><text x="47" y="67">HN</text><text x="193" y="65">N</text><text x="217" y="32">O</text><text x="289" y="34">O</text><text x="319" y="73">NH</text><text x="326" y="19">O</text><text x="376" y="19">OH</text><text x="435" y="56">O</text><text x="419" y="94">OH</text><text class="k" x="8" y="125">C00234</text></g>
</svg>
